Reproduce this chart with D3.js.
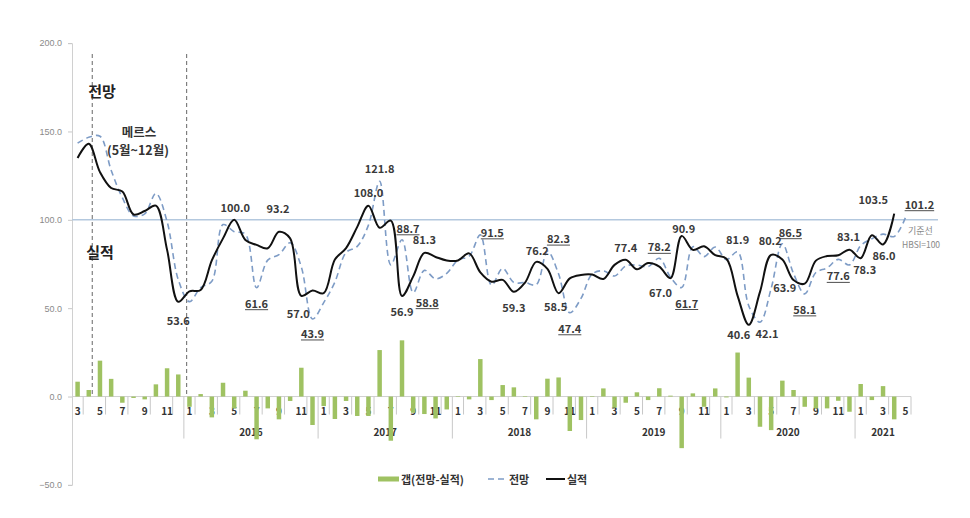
<!DOCTYPE html>
<html><head><meta charset="utf-8">
<script src="https://cdn.jsdelivr.net/npm/d3@7"></script>
<style>
body{margin:0;background:#fff;}
text{font-family:"Noto Sans CJK KR","Noto Sans",sans-serif;}
</style></head>
<body><svg id="c" width="970" height="518"></svg>
<script>
// ---- data ----
const categories = [
"2015-03","2015-04","2015-05","2015-06","2015-07","2015-08","2015-09","2015-10","2015-11","2015-12",
"2016-01","2016-02","2016-03","2016-04","2016-05","2016-06","2016-07","2016-08","2016-09","2016-10","2016-11","2016-12",
"2017-01","2017-02","2017-03","2017-04","2017-05","2017-06","2017-07","2017-08","2017-09","2017-10","2017-11","2017-12",
"2018-01","2018-02","2018-03","2018-04","2018-05","2018-06","2018-07","2018-08","2018-09","2018-10","2018-11","2018-12",
"2019-01","2019-02","2019-03","2019-04","2019-05","2019-06","2019-07","2019-08","2019-09","2019-10","2019-11","2019-12",
"2020-01","2020-02","2020-03","2020-04","2020-05","2020-06","2020-07","2020-08","2020-09","2020-10","2020-11","2020-12",
"2021-01","2021-02","2021-03","2021-04","2021-05"];
// 실적 (actual)
const actual = [135,143,127,118,116,103,105,108,83,53.6,
59.5,60.3,77,89.5,100.0,88.6,85.8,83.9,93.2,89.5,57.0,60.0,
58.5,77.5,84,96,108.0,95.5,99.5,56.9,68,81.3,79,77,
77,81,70.3,65,66,59.3,64.5,76.2,72.2,58.5,66.9,68.8,
69,66.5,74.5,77.4,72,75.5,73.5,67.0,90.9,83,85,80,
78,57,40.6,59.2,80.2,77.5,65.9,63.9,76.9,79.5,80,83.1,
78.3,91.3,86.0,103.5];
// 전망 (forecast)
const forecast = [143.4,146.7,147.3,128,112.5,102.2,103.4,114.9,99,66.1,
53.7,61.7,65.2,97.3,93.3,91.9,61.6,77.2,80.3,87,73.3,43.9,
53.1,64.8,81.5,85,97,121.8,74.5,88.7,58.8,71.4,66.6,69.7,
77.3,79.4,91.5,63,72.5,64.5,64.5,63.3,82.3,69.3,47.4,55.5,
69.3,71.1,68.2,73.9,74.4,73.5,78.2,67.5,61.7,84.8,79.2,84.6,
77.5,81.9,51.3,42.1,61.2,86.5,69.6,58.1,70.2,72.8,77.6,74.5,
85.4,89.3,91.9,90.6,101.2];
// 갭(전망-실적)
const gap = [8.4,3.7,20.3,10,-3.5,-0.8,-1.6,6.9,16,12.5,
-5.8,1.4,-11.8,7.8,-6.7,3.3,-24.2,-6.7,-12.9,-2.5,16.3,-16.1,
-5.4,-12.7,-2.5,-11,-11,26.3,-25,31.8,-9.2,-9.9,-12.4,-7.3,
0.3,-1.6,21.2,-2,6.5,5.2,0.3,-12.9,10.1,10.8,-19.5,-13.3,
0.3,4.6,-6.3,-3.5,2.4,-2,4.7,0.5,-29.2,1.8,-5.8,4.6,
-0.5,24.9,10.7,-17.1,-19,9,3.7,-5.8,-6.7,-6.7,-2.4,-8.6,
7.1,-2,5.9,-12.9];
const yTickValues = [-50,0,50,100,150,200];
const legendLabels = ["갭(전망-실적)","전망","실적"];

// data labels: which series/point gets a value label (u = underlined)
const valueLabels = [
 {s:"a",i:9,dx:0,dy:18},{s:"a",i:14,dx:1,dy:-13},{s:"a",i:18,dx:-1,dy:-24},
 {s:"f",i:16,dx:0,dy:15,u:1},{s:"a",i:20,dx:-3,dy:17},{s:"f",i:21,dx:0,dy:14,u:1},
 {s:"a",i:26,dx:0,dy:-14},{s:"f",i:27,dx:0,dy:-13},{s:"f",i:29,dx:6,dy:-12,u:1},
 {s:"a",i:31,dx:0,dy:-14},{s:"a",i:29,dx:0,dy:15},{s:"f",i:30,dx:14,dy:9,u:1},
 {s:"f",i:36,dx:12,dy:-3,u:1},{s:"a",i:39,dx:0,dy:15},{s:"a",i:41,dx:1,dy:-12},
 {s:"f",i:42,dx:11,dy:-13,u:1},{s:"a",i:43,dx:-3,dy:13},{s:"f",i:44,dx:0,dy:15,u:1},
 {s:"a",i:49,dx:0,dy:-13},{s:"f",i:52,dx:0,dy:-12,u:1},{s:"a",i:53,dx:-10,dy:14},
 {s:"f",i:54,dx:5,dy:15,u:1},{s:"a",i:54,dx:2,dy:-8},{s:"f",i:59,dx:0,dy:-13},
 {s:"a",i:60,dx:-10,dy:9},{s:"f",i:61,dx:7,dy:11},{s:"a",i:62,dx:-1,dy:-15},
 {s:"f",i:63,dx:8,dy:-12,u:1},{s:"a",i:65,dx:-20,dy:3},{s:"f",i:65,dx:0,dy:15,u:1},
 {s:"f",i:68,dx:0,dy:16,u:1},{s:"a",i:69,dx:-1,dy:-14},{s:"a",i:70,dx:4,dy:11},
 {s:"a",i:72,dx:1,dy:10},{s:"a",i:73,dx:-21,dy:-15},{s:"f",i:74,dx:14,dy:-14,u:1}
];

// ---- chart ----
const svg = d3.select("#c");
const plotL = 72, plotR = 911, plotT = 43.1, plotB = 484.9;
const x = d3.scaleBand().domain(d3.range(categories.length)).range([plotL, plotR]);
const step = x.step();
const xc = i => x(i) + step/2;
const xb = k => plotL + k*step; // boundary position in category units
const y = d3.scaleLinear().domain([-50,200]).range([plotB, plotT]);

// y axis
const yAxis = d3.axisLeft(y).tickValues(yTickValues).tickFormat(d3.format(".1f")).tickSize(4).tickPadding(6);
const ga = svg.append("g").attr("transform",`translate(${plotL},0)`).call(yAxis);
ga.select(".domain").attr("stroke","#d0d0d0");
ga.selectAll(".tick line").attr("stroke","#c8c8c8");
ga.selectAll(".tick text").attr("fill","#8a8a8a").style("font-size","9px").style("font-family","'Liberation Sans',sans-serif");

// zero axis line
svg.append("line").attr("x1",plotL).attr("x2",plotR).attr("y1",y(0)).attr("y2",y(0)).attr("stroke","#d0d0d0");

// month tick separators
const monthNum = categories.map(c=>+c.split("-")[1]);
const yearOf = categories.map(c=>c.split("-")[0]);
for (let k=1;k<=categories.length;k++){
  const isYear = k<categories.length && monthNum[k]===1;
  const odd = k%2===1;
  if(!(isYear||odd||k===categories.length)) continue;
  svg.append("line").attr("x1",xb(k)).attr("x2",xb(k)).attr("y1",y(0))
    .attr("y2", isYear? y(0)+42 : y(0)+18).attr("stroke","#c8c8c8");
}
// month labels
svg.append("g").selectAll("text").data(categories.map((c,i)=>i).filter(i=>monthNum[i]%2===1))
 .join("text").attr("x",i=>xc(i)).attr("y",y(0)+18).attr("text-anchor","middle")
 .attr("fill","#333").style("font-size","10px").style("font-weight","bold").text(i=>monthNum[i]);
// year labels
const yearsList = Array.from(new Set(yearOf)).filter(yy=>yy!=="2015");
svg.append("g").selectAll("text").data(yearsList).join("text")
 .attr("x",yy=>{const idx=yearOf.map((v,i)=>v===yy?i:-1).filter(i=>i>=0);return (xc(idx[0])+xc(idx[idx.length-1]))/2;})
 .attr("y",y(0)+39).attr("text-anchor","middle").attr("fill","#333")
 .style("font-size","10px").style("font-weight","bold").text(d=>d);

// gap bars
const bw = step*0.4;
svg.append("g").selectAll("rect").data(gap).join("rect")
 .attr("x",(d,i)=>xc(i)-bw/2).attr("width",bw)
 .attr("y",d=>d>=0?y(d):y(0)).attr("height",d=>Math.abs(y(d)-y(0)))
 .attr("fill","#9fc262");

// reference line 100
svg.append("line").attr("x1",plotL).attr("x2",938).attr("y1",y(100)).attr("y2",y(100))
 .attr("stroke","#b3c8de").attr("stroke-width",1.4);
svg.append("text").attr("x",908).attr("y",y(100)+14).attr("fill","#888").style("font-size","9px").text("기준선");
svg.append("text").attr("x",902).attr("y",y(100)+28).attr("fill","#888").style("font-size","8.5px").text("HBSI=100");

// MERS period dashed vertical lines
[1.81,10.25].forEach(k=>{
  svg.append("line").attr("x1",xb(k)).attr("x2",xb(k)).attr("y1",54).attr("y2",y(0))
   .attr("stroke","#666").attr("stroke-width",1).attr("stroke-dasharray","4,3");
});

// lines
const curve = d3.curveCatmullRom.alpha(0.5);
const lineGen = d3.line().x((d,i)=>xc(i)).y(d=>y(d)).curve(curve);
svg.append("path").attr("d",lineGen(forecast)).attr("fill","none")
 .attr("stroke","#7e9cc6").attr("stroke-width",1.6).attr("stroke-dasharray","6,4");
svg.append("path").attr("d",lineGen(actual)).attr("fill","none")
 .attr("stroke","#111").attr("stroke-width",2);

// value labels
const gl = svg.append("g");
valueLabels.forEach(l=>{
  const v = l.s==="a"?actual[l.i]:forecast[l.i];
  const tx = xc(l.i)+l.dx, ty = y(v)+l.dy;
  const t = gl.append("text").attr("x",tx).attr("y",ty).attr("text-anchor","middle")
   .attr("dominant-baseline","central").attr("fill","#3a3a3a")
   .style("font-size","11px").style("font-weight","bold").text(d3.format(".1f")(v));
  if(l.u){
    const w = t.node().getComputedTextLength();
    gl.append("line").attr("x1",tx-w/2).attr("x2",tx+w/2).attr("y1",ty+7).attr("y2",ty+7)
     .attr("stroke","#3a3a3a").attr("stroke-width",0.9);
  }
});

// annotations
svg.append("text").attr("x",102).attr("y",90).attr("text-anchor","middle").attr("dominant-baseline","central")
 .attr("fill","#222").style("font-size","15px").style("font-weight","bold").text("전망");
svg.append("text").attr("x",100).attr("y",251).attr("text-anchor","middle").attr("dominant-baseline","central")
 .attr("fill","#222").style("font-size","15px").style("font-weight","bold").text("실적");
svg.append("text").attr("x",139).attr("y",131).attr("text-anchor","middle").attr("dominant-baseline","central")
 .attr("fill","#333").style("font-size","12.5px").style("font-weight","bold").text("메르스");
svg.append("text").attr("x",138).attr("y",149).attr("text-anchor","middle").attr("dominant-baseline","central")
 .attr("fill","#333").style("font-size","12.5px").style("font-weight","bold").text("(5월~12월)");

// legend
const lg = svg.append("g").attr("transform","translate(0,479)");
lg.append("rect").attr("x",378).attr("y",-2.5).attr("width",21).attr("height",5).attr("fill","#9fc262");
lg.append("text").attr("x",401).attr("y",0).attr("dominant-baseline","central").attr("fill","#333")
 .style("font-size","11px").style("font-weight","bold").text(legendLabels[0]);
lg.append("line").attr("x1",488).attr("x2",507).attr("y1",0).attr("y2",0).attr("stroke","#7e9cc6")
 .attr("stroke-width",1.6).attr("stroke-dasharray","6,4");
lg.append("text").attr("x",509).attr("y",0).attr("dominant-baseline","central").attr("fill","#333")
 .style("font-size","11px").style("font-weight","bold").text(legendLabels[1]);
lg.append("line").attr("x1",546).attr("x2",565).attr("y1",0).attr("y2",0).attr("stroke","#111").attr("stroke-width",2);
lg.append("text").attr("x",567).attr("y",0).attr("dominant-baseline","central").attr("fill","#333")
 .style("font-size","11px").style("font-weight","bold").text(legendLabels[2]);
</script></body></html>
